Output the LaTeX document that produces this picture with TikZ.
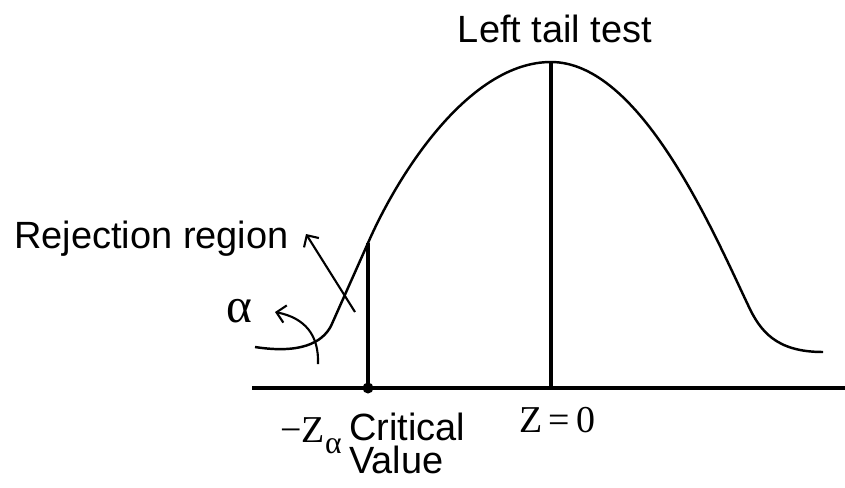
\documentclass[tikz,border=0pt]{standalone}
\usepackage{fontspec}
\setmainfont{Liberation Sans}
\newfontfamily\tms{Liberation Serif}
\usetikzlibrary{arrows.meta}

\tikzset{
  lbl/.style={inner sep=0pt,font=\fontsize{21.6}{24}\selectfont},
  mathlbl/.style={inner sep=0pt,font=\tms\fontsize{21.6}{24}\selectfont},
  curve/.style={line width=1.4pt,line join=round},
  pointer/.style={line width=1.2pt,-{Straight Barb[length=5pt,width=10pt,line width=1.2pt]}}
}

\begin{document}
\begin{tikzpicture}[x=0.02cm,y=-0.02cm]
        \useasboundingbox (0,0) rectangle (845,487);
        % axis and the two verticals
        \coordinate (axl) at (252,388);
        \coordinate (axr) at (845,388);
        \coordinate (crit) at (368,388);
        \coordinate (crittop) at (368,243);
        \coordinate (mid) at (551,388);
        \coordinate (peak) at (551,62);
        \draw[line width=2.6pt] (axl) -- (axr);
        \draw[line width=2pt] (crit) -- (crittop);
        \draw[line width=2pt] (mid) -- (peak);
        \fill (crit) circle (5.5);
        % the curve
        \draw[curve] (255,347) .. controls (300,354) and (322,343) .. (331,326) -- (crittop)
            .. controls (399,172) and (470,62) .. (peak)
            .. controls (640,62) and (712,229) .. (748,305)
            .. controls (760,331) and (776,352) .. (823,352);
        % labels
        \node[lbl,anchor=base] (title) at (555,42) {Left tail test};
        \node[lbl,anchor=base west] (rej) at (14,248) {Rejection region};
        \node[mathlbl,anchor=base west,font=\tms\fontsize{28}{30}\selectfont] (alpha) at (226,322) {α};
        \node[mathlbl,anchor=base west] (zero) at (519,432) {Z\,=\,0};
        \node[mathlbl,anchor=base east] (zalpha) at (342,442)
            {−Z\raisebox{-0.3em}{\fontsize{18}{18}\selectfont α}};
        \node[lbl,anchor=base west] (critlbl) at (349,440) {Critical};
        \node[lbl,anchor=base west] (vallbl) at (349,473) {Value};
        % pointers
        \coordinate (rejtail) at (355,312);
        \coordinate (rejtip) at (306,234);
        \draw[pointer] (rejtail) -- (rejtip);
        \coordinate (alphatail) at (318,364);
        \coordinate (alphatip) at (275,312);
        \draw[pointer] (alphatail) .. controls (319,335) and (305,318) .. (alphatip);
      \end{tikzpicture}
\end{document}
